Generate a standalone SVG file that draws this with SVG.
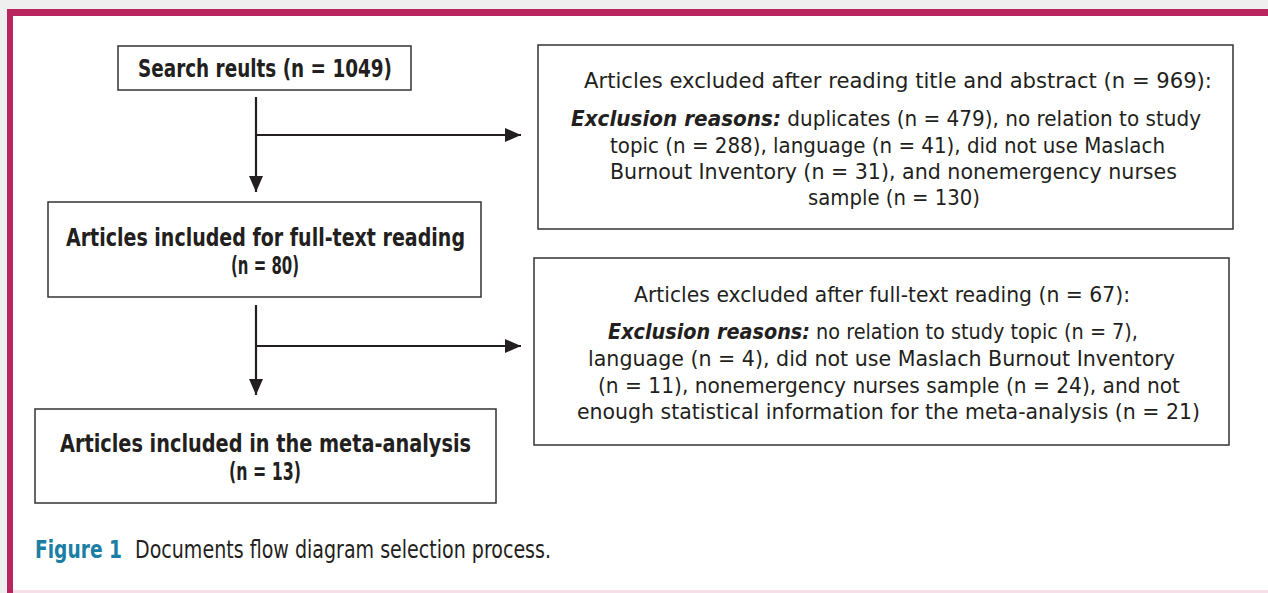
<svg xmlns="http://www.w3.org/2000/svg" width="1268" height="593" viewBox="0 0 1268 593">
<defs>
<style>
.t{font-family:"Liberation Sans Narrow","DejaVu Sans Condensed","Liberation Sans",sans-serif;font-size:25px;fill:#231f20}
.s{font-size:22px}
.m{font-size:24px}
.b{font-weight:bold}
.bi{font-weight:bold;font-style:italic}
.box{fill:#fff;stroke:#333;stroke-width:1.5}
.ln{stroke:#231f20;stroke-width:2.2;fill:none}
.cap{fill:#1b7ea3;font-weight:bold}
</style>
<marker id="arr" viewBox="0 0 16 14" refX="16" refY="7" markerWidth="16" markerHeight="14" markerUnits="userSpaceOnUse" orient="auto">
<path d="M0,0 L16,7 L0,14 z" fill="#231f20"/>
</marker>
</defs>
<rect x="0" y="0" width="1268" height="593" fill="#fff"/>
<rect x="0" y="0" width="1268" height="9" fill="#efefef"/>
<rect x="0" y="9" width="7" height="584" fill="#efefef"/>
<rect x="7" y="9" width="1261" height="7" fill="#b8255f"/>
<rect x="7" y="9" width="6" height="584" fill="#b8255f"/>
<rect x="13" y="590" width="1255" height="3" fill="#f6dfe8"/>

<g id="connectors">
<path class="ln" d="M256,97 V192" marker-end="url(#arr)"/>
<path class="ln" d="M256,135 H521" marker-end="url(#arr)"/>
<path class="ln" d="M256,305 V395" marker-end="url(#arr)"/>
<path class="ln" d="M256,346 H521" marker-end="url(#arr)"/>
</g>

<g id="search">
<rect class="box" x="118" y="46" width="293" height="44"/>
<text class="t b" x="138" y="77" textLength="254" lengthAdjust="spacingAndGlyphs">Search reults (n = 1049)</text>
</g>

<g id="fulltext">
<rect class="box" x="48" y="202" width="433" height="95"/>
<text class="t m b" x="66" y="246" textLength="399" lengthAdjust="spacingAndGlyphs">Articles included for full-text reading</text>
<text class="t m b" x="231" y="274" textLength="68" lengthAdjust="spacingAndGlyphs">(n = 80)</text>
</g>

<g id="meta">
<rect class="box" x="35" y="409" width="461" height="94"/>
<text class="t m b" x="60" y="452" textLength="411" lengthAdjust="spacingAndGlyphs">Articles included in the meta-analysis</text>
<text class="t m b" x="229" y="480" textLength="72" lengthAdjust="spacingAndGlyphs">(n = 13)</text>
</g>

<g id="excluded1">
<rect class="box" x="538" y="45" width="695" height="184"/>
<text class="t s" x="584" y="88" textLength="628" lengthAdjust="spacingAndGlyphs">Articles excluded after reading title and abstract (n = 969):</text>
<text class="t s" x="571" y="126" textLength="630" lengthAdjust="spacingAndGlyphs"><tspan class="bi">Exclusion reasons:</tspan> duplicates (n = 479), no relation to study</text>
<text class="t s" x="610" y="153" textLength="555" lengthAdjust="spacingAndGlyphs">topic (n = 288), language (n = 41), did not use Maslach</text>
<text class="t s" x="610" y="179" textLength="567" lengthAdjust="spacingAndGlyphs">Burnout Inventory (n = 31), and nonemergency nurses</text>
<text class="t s" x="808" y="205" textLength="172" lengthAdjust="spacingAndGlyphs">sample (n = 130)</text>
</g>

<g id="excluded2">
<rect class="box" x="534" y="258" width="695" height="187"/>
<text class="t s" x="634" y="302" textLength="496" lengthAdjust="spacingAndGlyphs">Articles excluded after full-text reading (n = 67):</text>
<text class="t s" x="608" y="339" textLength="530" lengthAdjust="spacingAndGlyphs"><tspan class="bi">Exclusion reasons:</tspan> no relation to study topic (n = 7),</text>
<text class="t s" x="588" y="366" textLength="587" lengthAdjust="spacingAndGlyphs">language (n = 4), did not use Maslach Burnout Inventory</text>
<text class="t s" x="598" y="393" textLength="582" lengthAdjust="spacingAndGlyphs">(n = 11), nonemergency nurses sample (n = 24), and not</text>
<text class="t s" x="577" y="419" textLength="623" lengthAdjust="spacingAndGlyphs">enough statistical information for the meta-analysis (n = 21)</text>
</g>

<g id="caption">
<text class="t cap" x="35" y="558" textLength="87" lengthAdjust="spacingAndGlyphs">Figure 1</text>
<text class="t" x="135" y="558" textLength="416" lengthAdjust="spacingAndGlyphs">Documents flow diagram selection process.</text>
</g>
</svg>
